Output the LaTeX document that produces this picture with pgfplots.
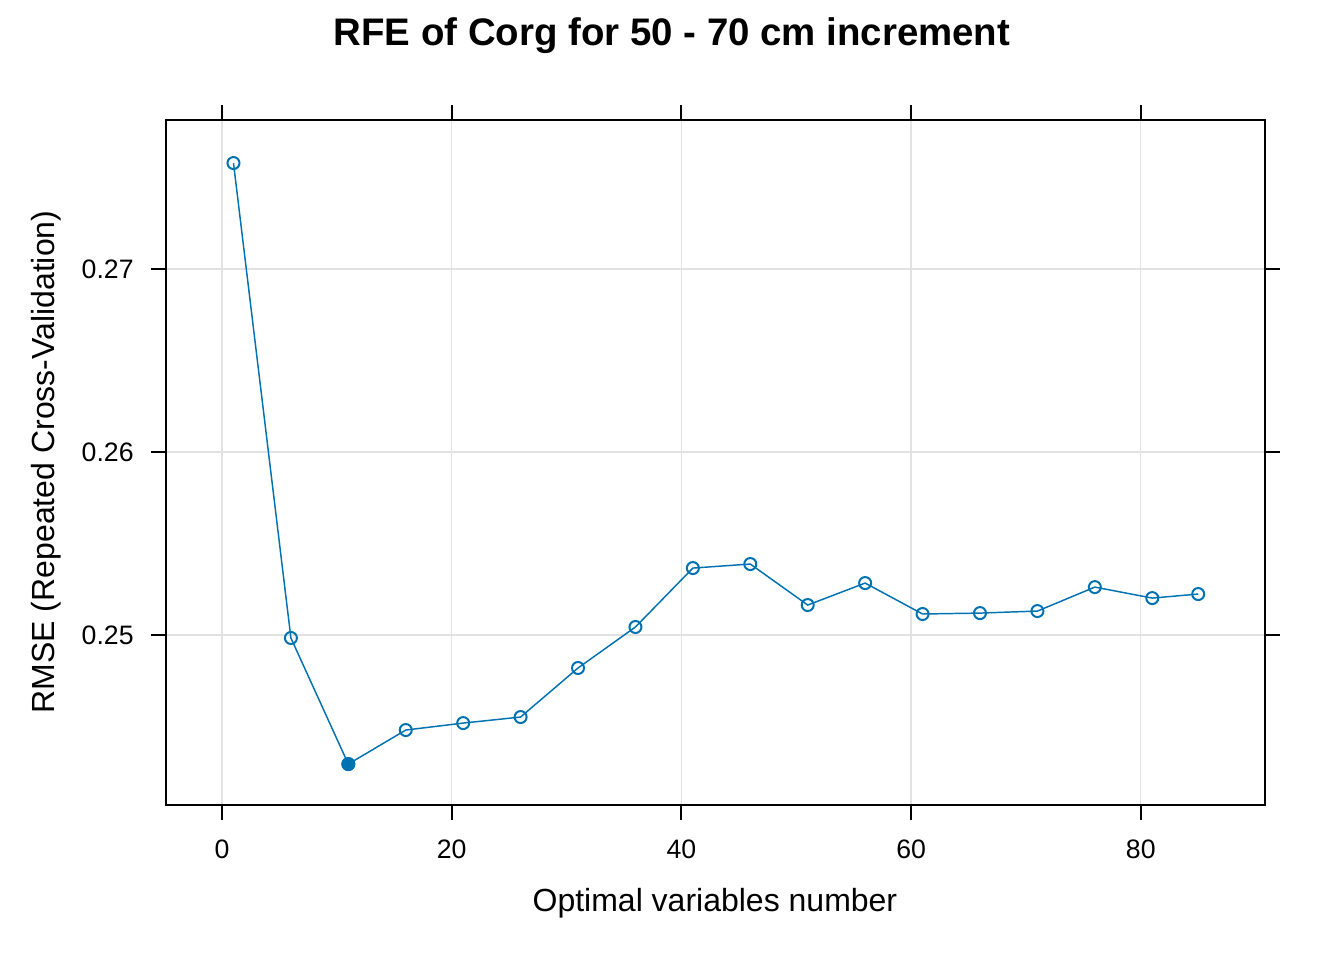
\documentclass[border=0pt]{standalone}
\usepackage{pgfplots}
\pgfplotsset{compat=1.18}
\usepackage{fontspec}
\setmainfont{Liberation Sans}
\definecolor{rfeblue}{RGB}{0,114,178}
\definecolor{gridgrey}{RGB}{226,226,226}
\begin{document}
\begin{tikzpicture}
\path[use as bounding box] (0,0) rectangle (504pt,360pt);
\begin{axis}[
    at={(62.25pt,58.1pt)}, anchor=south west,
    scale only axis, width=412.1pt, height=256.9pt,
    xmin=-4.876, xmax=90.81,
    ymin=0.24071, ymax=0.278142,
    xtick={0,20,40,60,80},
    ytick={0.25,0.26,0.27},
    yticklabel style={/pgf/number format/fixed,/pgf/number format/precision=2},
    /pgf/number format/assume math mode=true,
    tick label style={font=\fontsize{10}{12}\selectfont},
    xticklabel style={yshift=-3.8pt},
    yticklabel style={xshift=-3pt},
    tick align=outside, major tick length=5.6pt,
    tick style={black, line width=0.75pt},
    axis line style={line width=0.75pt},
    xmajorgrids, ymajorgrids,
    major grid style={gridgrey, line width=0.5pt},
    clip=false,
]
\addplot[rfeblue, line width=0.55pt, mark=o, mark size=2.25pt, mark options={line width=0.75pt}] coordinates {
    (1,0.27579) (6,0.24984) (11,0.24295) (16,0.24481) (21,0.24519)
    (26,0.24552) (31,0.24820) (36,0.25044) (41,0.25366) (46,0.25388)
    (51,0.25164) (56,0.25284) (61,0.25115) (66,0.25120) (71,0.25131)
    (76,0.25262) (81,0.25202) (85,0.25224)
};
\addplot[rfeblue, only marks, mark=*, mark size=2.4pt] coordinates {(11,0.24295)};
\end{axis}
\node[font=\fontsize{14.4}{17}\selectfont\bfseries] at (252pt,346.6pt) {RFE of Corg for 50 - 70 cm increment};
\node[font=\fontsize{12}{14}\selectfont] at (268.1pt,21.2pt) {Optimal variables number};
\node[font=\fontsize{12}{14}\selectfont, rotate=90] at (17.25pt,186.75pt) {RMSE (Repeated Cross-Validation)};
\end{tikzpicture}
\end{document}
